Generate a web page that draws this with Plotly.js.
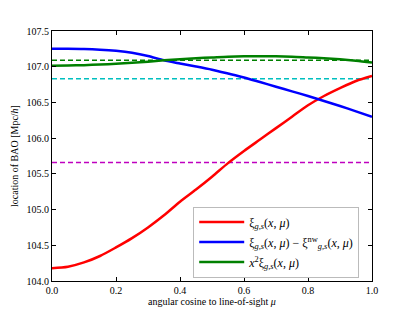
<!DOCTYPE html>
<html><head><meta charset="utf-8">
<script src="https://cdn.plot.ly/plotly-3.0.1.min.js"></script>
<style>html,body{margin:0;padding:0;background:#fff}#chart{width:413px;height:312px}</style>
</head><body><div id="chart"></div>
<script>
const mu = [0,0.05,0.1,0.15,0.2,0.25,0.3,0.35,0.4,0.45,0.5,0.55,0.6,0.65,0.7,0.75,0.8,0.85,0.9,0.95,1.0];
const xiFull = [104.18,104.20,104.26,104.35,104.47,104.60,104.75,104.92,105.11,105.28,105.46,105.65,105.82,105.98,106.14,106.30,106.46,106.59,106.70,106.80,106.87];
const xiMinusNw = [107.25,107.25,107.247,107.238,107.222,107.195,107.15,107.09,107.045,107.003,106.958,106.905,106.85,106.785,106.72,106.655,106.59,106.52,106.45,106.375,106.30];
const x2xi = [107.015,107.017,107.022,107.03,107.04,107.055,107.07,107.09,107.105,107.12,107.13,107.14,107.145,107.148,107.145,107.14,107.13,107.12,107.105,107.085,107.06];
const dashedLevels = [107.09, 106.83, 105.66];
const dashedColors = ['#008000', '#00bfbf', '#bf00bf'];
const muRange = [0, 1];
const seriesNames = [
  'ξ<sub><i>g,s</i></sub>(<i>x</i>, <i>μ</i>)',
  'ξ<sub><i>g,s</i></sub>(<i>x</i>, <i>μ</i>) − ξ<sup>nw</sup><sub><i>g,s</i></sub>(<i>x</i>, <i>μ</i>)',
  '<i>x</i><sup>2</sup>ξ<sub><i>g,s</i></sub>(<i>x</i>, <i>μ</i>)'
];
const xTicks = [0, 0.2, 0.4, 0.6, 0.8, 1.0];
const yTicks = [104.0, 104.5, 105.0, 105.5, 106.0, 106.5, 107.0, 107.5];

const traces = [];
dashedLevels.forEach((v, i) => {
  traces.push({x: muRange, y: [v, v], mode: 'lines', showlegend: false,
    line: {color: dashedColors[i], width: 1.5, dash: '5px,3px'}, hoverinfo: 'skip'});
});
const solid = [[xiFull, '#ff0000'], [xiMinusNw, '#0000ff'], [x2xi, '#008000']];
solid.forEach((s, i) => {
  traces.push({x: mu, y: s[0], mode: 'lines', name: seriesNames[i], legendgroup: 'g' + i,
    line: {color: s[1], width: 2.5, shape: 'spline', smoothing: 0.8}});
});

const font = {family: 'Liberation Serif, serif', size: 10, color: '#000'};
const layout = {
  width: 413, height: 312,
  margin: {l: 52, r: 41, t: 31, b: 31},
  paper_bgcolor: '#fff', plot_bgcolor: '#fff',
  font: font,
  showlegend: true,
  legend: {x: 0.96, y: 0.014, xanchor: 'right', yanchor: 'bottom',
    bordercolor: '#bbbbbb', borderwidth: 1, bgcolor: '#fff',
    font: {family: 'Liberation Serif, serif', size: 12, color: '#000'},
    itemwidth: 45, traceorder: 'grouped', tracegroupgap: 1},
  xaxis: {range: [0, 1], tickvals: xTicks, tickformat: '.1f',
    ticks: 'inside', ticklen: 4, tickcolor: '#000', showline: true, mirror: 'ticks',
    linecolor: '#000', linewidth: 1, showgrid: false, zeroline: false,
    tickfont: font, fixedrange: true,
    title: {text: 'angular cosine to line-of-sight <i>μ</i>', font: font, standoff: 2}},
  yaxis: {range: [104, 107.5], tickvals: yTicks, tickformat: '.1f',
    ticks: 'inside', ticklen: 4, tickcolor: '#000', showline: true, mirror: 'ticks',
    linecolor: '#000', linewidth: 1, showgrid: false, zeroline: false,
    tickfont: font, fixedrange: true,
    title: {text: 'location of BAO [Mpc/<i>h</i>]', font: font, standoff: 6}}
};
Plotly.newPlot('chart', traces, layout, {displayModeBar: false, staticPlot: true});
</script></body></html>
